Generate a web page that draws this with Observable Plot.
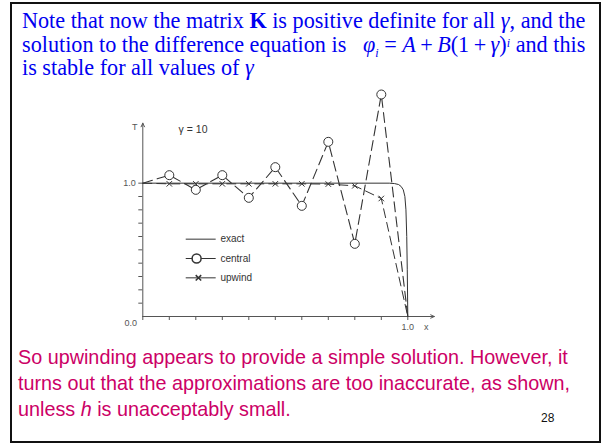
<!DOCTYPE html>
<html>
<head>
<meta charset="utf-8">
<script src="https://cdn.jsdelivr.net/npm/d3@7"></script>
<script src="https://cdn.jsdelivr.net/npm/@observablehq/plot@0.6"></script>
<style>
  html, body { margin: 0; padding: 0; background: #fff; }
  #slide { position: relative; width: 608px; height: 445px; overflow: hidden; }
  #frame { position: absolute; left: 10px; top: 2px; width: 587px; height: 437px; border: 2px solid #111; }
  #top { position: absolute; left: 22px; top: 9px; font-family: "Liberation Serif", "Times New Roman", serif;
         font-size: 22.2px; line-height: 23.5px; color: #0000f0; white-space: nowrap; }
  #top i { font-style: italic; }
  #top sub { font-size: 12px; line-height: 0; }
  #top sup { font-size: 12px; line-height: 0; vertical-align: 5px; }
  #chart { position: absolute; left: 100px; top: 70px; }
  #bottom { position: absolute; left: 18px; top: 344px; font-family: "Liberation Sans", Arial, sans-serif;
            font-size: 19.8px; line-height: 26px; color: #cc0066; white-space: nowrap; }
  #page { position: absolute; left: 541px; top: 411px; font-family: "Liberation Sans", Arial, sans-serif; font-size: 12px; color: #111; }
</style>
</head>
<body>
<div id="slide">
  <div id="frame"></div>
  <div id="top">
    <div>Note that now the matrix <b>K</b> is positive definite for all <i>γ</i>, and the</div>
    <div>solution to the difference equation is &nbsp;&nbsp;<i>φ<sub>i</sub></i> = <i>A</i>&thinsp;+&thinsp;<i>B</i>(1&thinsp;+&thinsp;<i>γ</i>)<sup><i>i</i></sup> and this</div>
    <div>is stable for all values of <i>γ</i></div>
  </div>
  <div id="chart"></div>
  <div id="bottom">
    <div>So upwinding appears to provide a simple solution. However, it</div>
    <div>turns out that the approximations are too inaccurate, as shown,</div>
    <div>unless <i>h</i> is unacceptably small.</div>
  </div>
  <div id="page">28</div>
</div>
<script>
// Mesh nodes x_i = i h, h = 0.1
const nodeX = [0, 0.1, 0.2, 0.3, 0.4, 0.5, 0.6, 0.7, 0.8, 0.9, 1.0];
// Central-difference solution (oscillating)
const centralT = [1.0, 1.06, 0.95, 1.06, 0.89, 1.12, 0.83, 1.31, 0.545, 1.665, 0.0];
// Upwind solution
const upwindT = [1.0, 0.995, 0.995, 0.995, 0.995, 0.995, 0.995, 0.993, 0.98, 0.885, 0.0];
// Exact solution with its boundary layer at x = 1
const exactX = [0, 0.5, 0.93, 0.95, 0.965, 0.975, 0.983, 0.989, 0.993, 0.996, 0.998, 1.0];
const exactT = [1.0, 1.0, 1.0, 0.997, 0.99, 0.975, 0.95, 0.9, 0.8, 0.6, 0.35, 0.0];

const xTicks = [0, 0.1, 0.2, 0.3, 0.4, 0.5, 0.6, 0.7, 0.8, 0.9, 1.0];
const yTicks = [0.1, 0.2, 0.3, 0.4, 0.5, 0.6, 0.7, 0.8, 0.9, 1.0];
const legendNames = ["exact", "central", "upwind"];
const legendT = [0.58, 0.435, 0.29];

const ink = "#333";
const axisInk = "#555";

const nodes = nodeX.map((x, i) => ({x, central: centralT[i], upwind: upwindT[i]}));
const exact = exactX.map((x, i) => ({x, t: exactT[i]}));
const interior = nodes.slice(1, 10);
const legend = legendNames.map((name, i) => ({name, t: legendT[i]}));
const axes = [
  {x1: 0, y1: 0, x2: 0, y2: 1.45},
  {x1: 0, y1: 0, x2: 1.1, y2: 0}
];

const chart = Plot.plot({
  width: 350,
  height: 270,
  marginLeft: 42.3,
  marginRight: 42.7,
  marginTop: 6,
  marginBottom: 24,
  style: {background: "transparent", fontFamily: "Liberation Sans, Arial, sans-serif", fontSize: "9px", color: axisInk, overflow: "visible"},
  x: {domain: [0, 1], ticks: xTicks, tickSize: 4, tickPadding: 3, label: null,
      tickFormat: d => (d === 1 ? "1.0" : "")},
  y: {domain: [0, 1.8], ticks: yTicks, tickSize: 4, tickPadding: 3, label: null,
      tickFormat: d => (d === 1 ? "1.0" : "")},
  marks: [
    Plot.arrow(axes, {x1: "x1", y1: "y1", x2: "x2", y2: "y2", bend: 0, headLength: 6, headAngle: 50, stroke: axisInk, strokeWidth: 1}),
    // exact solution
    Plot.line(exact, {x: "x", y: "t", stroke: ink, strokeWidth: 1}),
    // upwind
    Plot.line(nodes, {x: "x", y: "upwind", stroke: ink, strokeWidth: 1, strokeDasharray: "9,5"}),
    Plot.dot(interior, {x: "x", y: "upwind", symbol: "times", r: 2.6, stroke: ink, strokeWidth: 1}),
    // central
    Plot.line(nodes, {x: "x", y: "central", stroke: ink, strokeWidth: 1.1, strokeDasharray: "10,5"}),
    Plot.dot(interior, {x: "x", y: "central", r: 4.5, fill: "white", stroke: ink, strokeWidth: 1}),
    // axis annotations
    Plot.text(["0.0"], {x: 0, y: 0, text: d => d, dx: -12, dy: 7, fill: axisInk}),
    Plot.text(["T"], {x: 0, y: 1.42, text: d => d, dx: -8, fill: axisInk}),
    Plot.text(["x"], {x: 1.07, y: 0, text: d => d, dy: 11, fill: axisInk}),
    Plot.text(["γ = 10"], {x: 0.135, y: 1.4, text: d => d, textAnchor: "start", fill: ink, fontSize: 10.5}),
    // legend
    Plot.link(legend, {x1: 0.162, x2: 0.275, y1: "t", y2: "t", stroke: ink, strokeWidth: 1,
      strokeDasharray: d => (d.name === "exact" ? null : d.name === "central" ? "7,2" : "6,4")}),
    Plot.dot(legend.filter(d => d.name === "central"), {x: 0.203, y: "t", r: 4.5, fill: "white", stroke: ink}),
    Plot.dot(legend.filter(d => d.name === "upwind"), {x: 0.21, y: "t", symbol: "times", r: 2.6, stroke: ink}),
    Plot.text(legend, {x: 0.293, y: "t", text: "name", textAnchor: "start", fill: ink, fontSize: 10})
  ]
});
document.getElementById("chart").appendChild(chart);
</script>
</body>
</html>
